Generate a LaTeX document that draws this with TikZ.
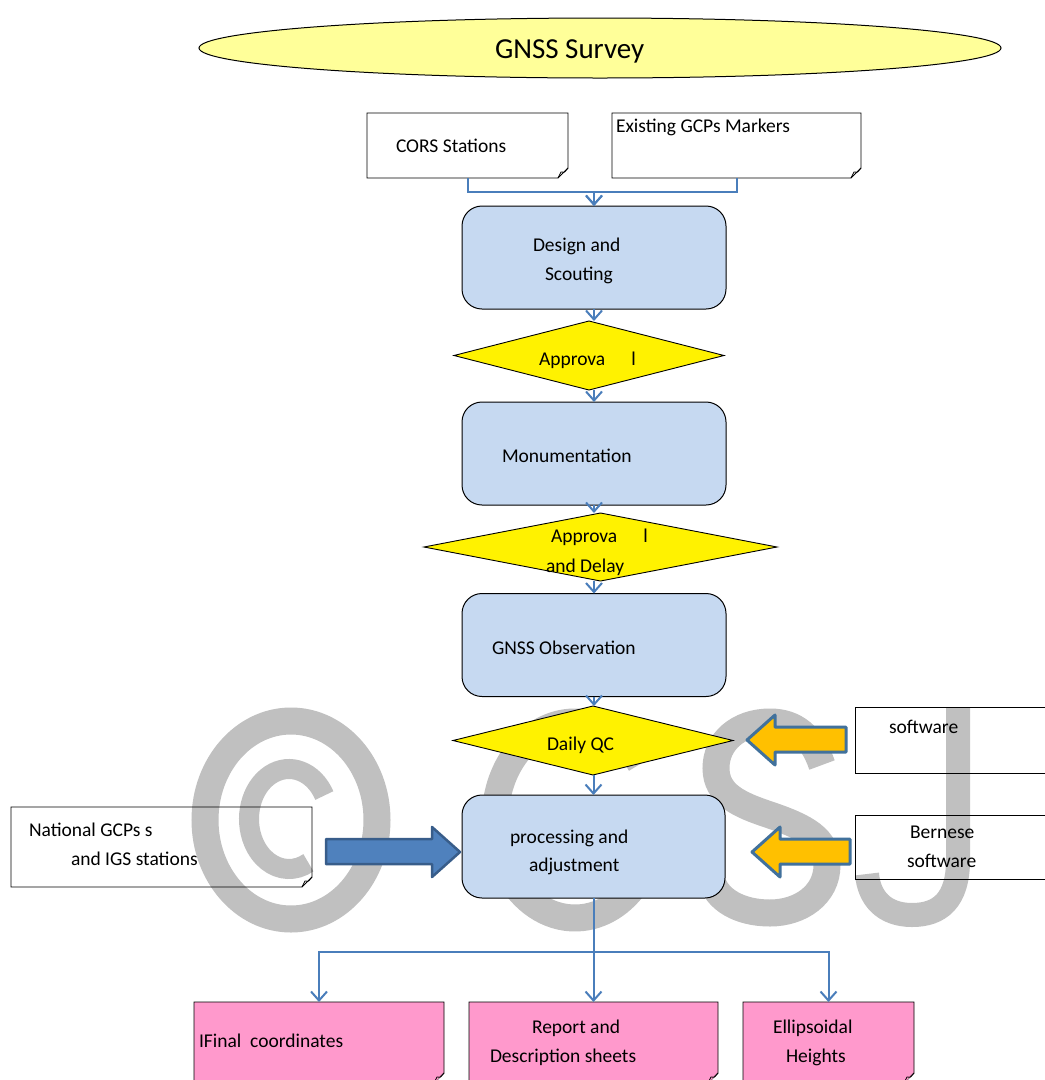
\documentclass[tikz,border=0pt]{standalone}
\usepackage{fontspec}
\setmainfont{Carlito}
\usetikzlibrary{shapes.geometric,arrows.meta,calc}
\definecolor{wm}{HTML}{C0C0C0}
\definecolor{boxblue}{HTML}{C6D9F1}
\definecolor{cblue}{HTML}{4A7EBB}
\definecolor{ellfill}{HTML}{FFFF99}
\definecolor{pinkfill}{HTML}{FF99CC}
\definecolor{arrblue}{HTML}{4F81BD}
\definecolor{arrblueb}{HTML}{385D8A}
\definecolor{orangefill}{HTML}{FFC000}
\definecolor{orangeb}{HTML}{41719C}
\newcommand\foldoutline[2]{%
  \draw[line width=0.9pt,#2] (#1.north west) -- (#1.north east) -- ([yshift=10pt]#1.south east) -- ([xshift=-10pt]#1.south east) -- (#1.south west) -- cycle;
  \draw[line width=0.8pt,#2] ([yshift=10pt]#1.south east) .. controls ([xshift=-4pt,yshift=5pt]#1.south east) .. ([xshift=-7pt,yshift=6pt]#1.south east) -- ([xshift=-10pt]#1.south east);
}
\begin{document}
\begin{tikzpicture}[x=1pt,y=-1pt,
  every node/.style={inner sep=0pt,outer sep=0pt},
  txt/.style={anchor=base west,font=\fontsize{19.5}{23}\selectfont},
  rbox/.style={draw=black,line width=1pt,fill=boxblue,rounded corners=20pt,minimum width=264pt,minimum height=103pt},
  dia/.style={diamond,draw=black,line width=0.9pt,fill=yellow},
  ghost/.style={draw=none},
  conn/.style={draw=cblue,line width=2pt,-{Straight Barb[length=9pt,width=16pt]}},
  link/.style={draw=cblue,line width=2pt},
  wmark/.style={draw=wm,line width=27pt},
  blockblue/.style={fill=arrblue,draw=arrblueb,line width=2.5pt,line join=round},
  blockorange/.style={fill=orangefill,draw=orangeb,line width=3pt,line join=round}]
\useasboundingbox (0,0) rectangle (1045,1080);
\clip (0,0) rectangle (1045,1080);
\fill[white] (0,0) rectangle (1045,1080);

% watermark
\draw[wmark] (291,820) ellipse [x radius=86, y radius=99];
\draw[wmark,line width=20pt] (289,819) ++(-28:40 and 50) arc[start angle=-28, end angle=-299, x radius=40, y radius=50];
\draw[wmark] (575,820) ++(-35:80 and 98) arc[start angle=-35, end angle=-325, x radius=80, y radius=98];
\draw[wmark] (822,765) .. controls (812,736) and (795,722) .. (770,722)
  .. controls (738,722) and (716,742) .. (716,768)
  .. controls (716,795) and (740,805) .. (770,815)
  .. controls (805,827) and (827,838) .. (827,865)
  .. controls (827,895) and (800,913) .. (770,913)
  .. controls (740,913) and (716,900) .. (711,878);
\draw[wmark,line width=24pt] (958,708) -- (958,860) .. controls (958,900) and (940,915) .. (912,915) .. controls (884,915) and (869,898) .. (867,874);

% title
\node[ellipse,draw=black,line width=1pt,fill=ellfill,minimum width=802pt,minimum height=60pt] (title) at (600,48) {};
\node[anchor=base west,font=\fontsize{29}{35}\selectfont] (titletxt) at (495,58) {GNSS Survey};

% top input boxes
\node[ghost,minimum width=201pt,minimum height=65pt] (cors) at (467.5,145.5) {};
\foldoutline{cors}{}
\node[txt] (corstxt) at (396,152) {CORS Stations};
\node[ghost,minimum width=249pt,minimum height=65pt] (exist) at (736.5,145.5) {};
\foldoutline{exist}{}
\node[txt] (existtxt) at (616,132) {Existing GCPs Markers};

% main chain
\node[rbox] (design) at (594,257.5) {};
\node[txt] (designtxt1) at (533,251) {Design and};
\node[txt] (designtxt2) at (545,280) {Scouting};

\node[dia,minimum width=270pt,minimum height=69pt] (d1) at (589,355.5) {};
\node[txt] (d1txt) at (539,365) {Approva\hspace{26pt}l};

\node[rbox] (monu) at (594,453.5) {};
\node[txt] (monutxt) at (502,462) {Monumentation};

\node[dia,minimum width=353pt,minimum height=68pt] (d2) at (600.5,547) {};
\node[txt] (d2txt1) at (551,542) {Approva\hspace{26pt}l};
\node[txt] (d2txt2) at (546,572) {and Delay};

\node[rbox] (obs) at (594,645) {};
\node[txt] (obstxt) at (492,654) {GNSS Observation};

\node[dia,minimum width=280pt,minimum height=69pt] (d3) at (593,740.5) {};
\node[txt] (d3txt) at (547,750) {Daily QC};

\node[rbox,minimum width=263pt] (proc) at (593.5,846.5) {};
\node[txt] (proctxt1) at (510,843) {processing and};
\node[txt] (proctxt2) at (529,871) {adjustment};

% side boxes
\node[ghost,minimum width=205pt,minimum height=66pt] (soft) at (957.5,740) {};
\draw[line width=0.9pt] (soft.north east) -- (soft.north west) -- (soft.south west) -- (soft.south east);
\node[txt] (softtxt) at (889,733) {software};
\node[ghost,minimum width=205pt,minimum height=64pt] (bern) at (957.5,847) {};
\draw[line width=0.9pt] (bern.north east) -- (bern.north west) -- (bern.south west) -- (bern.south east);
\node[txt] (berntxt1) at (910,838) {Bernese};
\node[txt] (berntxt2) at (907,867) {software};

\node[ghost,minimum width=301pt,minimum height=80pt] (natl) at (161.5,847) {};
\foldoutline{natl}{}
\node[txt] (natltxt1) at (29,836) {National GCPs s};
\node[txt] (natltxt2) at (71,865) {and IGS stations};

% outputs
\node[ghost,minimum width=250pt,minimum height=81pt] (final) at (319,1042.5) {};
\foldoutline{final}{fill=pinkfill}
\node[txt] (finaltxt) at (199,1047) {IFinal\ \ coordinates};
\node[ghost,minimum width=249pt,minimum height=81pt] (report) at (593.5,1042.5) {};
\foldoutline{report}{fill=pinkfill}
\node[txt] (reporttxt1) at (532,1033) {Report and};
\node[txt] (reporttxt2) at (490,1062) {Description sheets};
\node[ghost,minimum width=171pt,minimum height=81pt] (ellip) at (828.5,1042.5) {};
\foldoutline{ellip}{fill=pinkfill}
\node[txt] (ellitxt1) at (773,1033) {Ellipsoidal};
\node[txt] (ellitxt2) at (786,1062) {Heights};

% connectors
\draw[conn] (cors.south) -- ++(0,14) -| (design.north);
\draw[conn] (exist.south) -- ++(0,14) -| (design.north);
\draw[conn] (design.south) -- (design.south |- d1.north);
\draw[conn] (monu.north |- d1.south) -- (monu.north);
\draw[conn] (monu.south) -- (monu.south |- d2.north);
\draw[conn] (obs.north |- d2.south) -- (obs.north);
\draw[conn] (obs.south) -- (obs.south |- d3.north);
\draw[conn] (proc.north |- d3.south) -- (proc.north);
\coordinate (split) at ($(proc.south)+(0,54)$);
\draw[conn] (proc.south) -- (report.north);
\draw[conn] (split) -| (final.north);
\draw[conn] (split) -| (ellip.north);

% block arrows
\draw[blockblue] (460,852) -- (432,827) -- (432,839) -- (326,839) -- (326,864) -- (432,864) -- (432,877) -- cycle;
\draw[blockorange] (747,740) -- (775,715) -- (775,727) -- (846,727) -- (846,752) -- (775,752) -- (775,765) -- cycle;
\draw[blockorange] (752,852) -- (780,827) -- (780,839) -- (850,839) -- (850,864) -- (780,864) -- (780,877) -- cycle;
\end{tikzpicture}
\end{document}
